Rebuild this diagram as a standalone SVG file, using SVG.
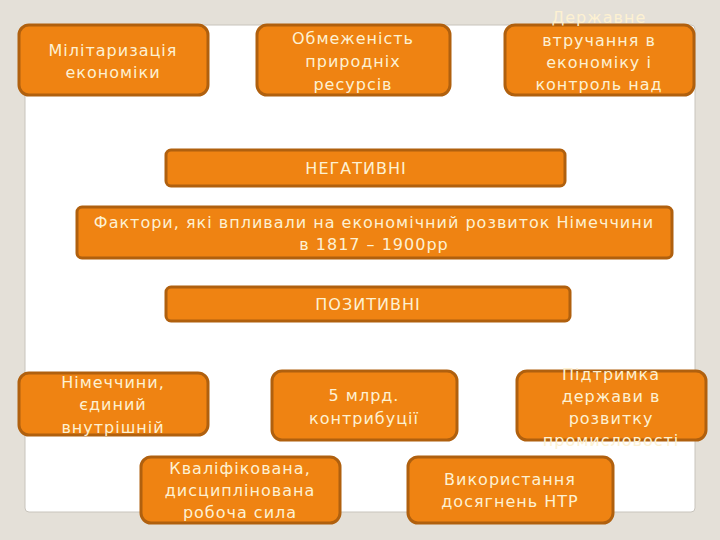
<svg xmlns="http://www.w3.org/2000/svg" width="720" height="540" viewBox="0 0 720 540">
<style>
.b{fill:#ef8312;stroke:#b0600e;stroke-width:3}
text{font-family:"DejaVu Sans","Open Sans",sans-serif;font-size:16px;letter-spacing:1px;fill:#fdf1d2;text-anchor:middle}
</style>
<rect width="720" height="540" fill="#e4e0d8"/>
<rect x="25" y="25" width="670" height="487" rx="4" fill="#fff" stroke="#c8c4bc"/>
<g id="n1"><rect class="b" x="19" y="25" width="189" height="70" rx="10"/><text x="113" y="56">Мілітаризація</text><text x="113" y="78">економіки</text></g>
<g id="n2"><rect class="b" x="257" y="25" width="193" height="70" rx="10"/><text x="353" y="44">Обмеженість</text><text x="353" y="67">природніх</text><text x="353" y="90">ресурсів</text></g>
<g id="n3"><rect class="b" x="505" y="25" width="189" height="70" rx="10"/><text x="599" y="23">Державне</text><text x="599" y="46">втручання в</text><text x="599" y="68">економіку і</text><text x="599" y="90">контроль над</text></g>
<g id="n4"><rect class="b" x="166" y="150" width="399" height="36" rx="5"/><text x="356" y="174">НЕГАТИВНІ</text></g>
<g id="n5"><rect class="b" x="77" y="207" width="595" height="51" rx="5"/><text x="374" y="228">Фактори, які впливали на економічний розвиток Німеччини</text><text x="374" y="250">в 1817 – 1900рр</text></g>
<g id="n6"><rect class="b" x="166" y="287" width="404" height="34" rx="5"/><text x="368" y="310">ПОЗИТИВНІ</text></g>
<g id="n7"><rect class="b" x="19" y="373" width="189" height="62" rx="10"/><text x="113" y="388">Німеччини,</text><text x="113" y="410">єдиний</text><text x="113" y="433">внутрішній</text></g>
<g id="n8"><rect class="b" x="272" y="371" width="185" height="69" rx="10"/><text x="364" y="401">5 млрд.</text><text x="364" y="424">контрибуції</text></g>
<g id="n9"><rect class="b" x="517" y="371" width="189" height="69" rx="10"/><text x="611" y="380">Підтримка</text><text x="611" y="402">держави в</text><text x="611" y="424">розвитку</text><text x="611" y="446">промисловості</text></g>
<g id="n10"><rect class="b" x="141" y="457" width="199" height="66" rx="10"/><text x="240" y="474">Кваліфікована,</text><text x="240" y="496">дисциплінована</text><text x="240" y="518">робоча сила</text></g>
<g id="n11"><rect class="b" x="408" y="457" width="205" height="66" rx="10"/><text x="510" y="485">Використання</text><text x="510" y="507">досягнень НТР</text></g>
<g id="connectors"/>
</svg>
